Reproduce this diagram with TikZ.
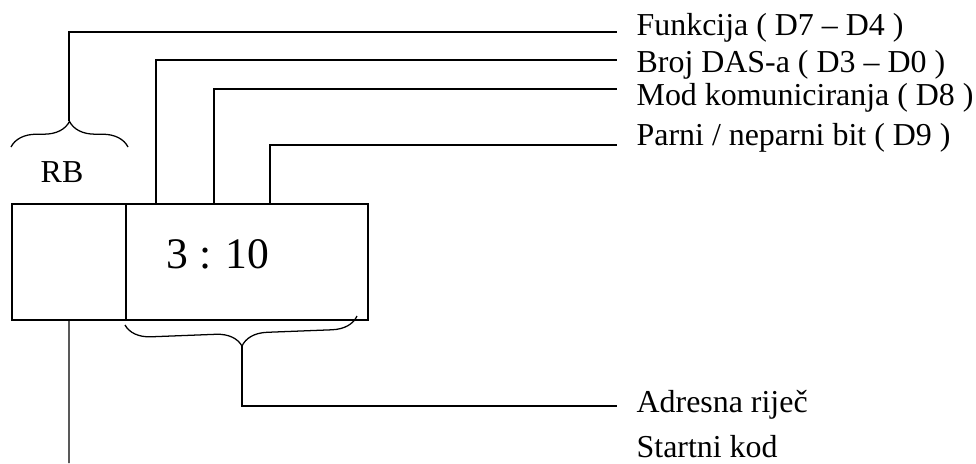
\documentclass[tikz,border=0pt]{standalone}
\usepackage{fontspec}
\setmainfont{Liberation Serif}
\usetikzlibrary{decorations.pathreplacing}

\begin{document}
\begin{tikzpicture}[
    x=0.025cm, y=-0.025cm,
    line width=0.9pt,
    every node/.style={inner sep=0pt, font=\fontsize{22.7}{27}\selectfont},
    lbl/.style={anchor=base west},
    cell/.style={draw, outer sep=0pt, minimum height=2.9cm, anchor=north west},
    curly/.style={decorate, decoration={brace, amplitude=0.64cm}}
]
\useasboundingbox (0,0) rectangle (976,463);

% the word
\node[cell, minimum width=2.85cm] (rb) at (12,204) {};
\node[cell, minimum width=6.05cm] (adr) at (rb.north east) {};
\node[anchor=base west, font=\fontsize{31}{37}\selectfont] (val) at (166,268) {3 : 10};
\node[anchor=base] (rbtxt) at (62,182) {RB};

% braces
\draw[curly] (11,147) -- (128,147);
\draw[curly] (357,316) -- (125,325);
\coordinate (rbtip) at (69,121);
\coordinate (adrtip) at (242,346);

% labels
\node[lbl] (funk) at (636,35) {Funkcija ( D7 -- D4 )};
\node[lbl] (broj) at (636,72) {Broj DAS-a ( D3 -- D0 )};
\node[lbl] (mod) at (636,105) {Mod komuniciranja ( D8 )};
\node[lbl] (parni) at (636,145) {Parni / neparni bit ( D9 )};
\node[lbl] (adrtxt) at (636,412) {Adresna riječ};
\node[lbl] (start) at (636,457) {Startni kod};

\coordinate (funkend) at (617,32);
\coordinate (brojend) at (617,60);
\coordinate (modend) at (617,89);
\coordinate (parniend) at (617,145);
\coordinate (adrend) at (617,406);
\coordinate (startend) at (69,463);

% connectors
\draw (rbtip) |- (funkend);
\draw ([xshift=0.75cm]adr.north west) |- (brojend);
\draw ([xshift=2.2cm]adr.north west) |- (modend);
\draw ([xshift=3.6cm]adr.north west) |- (parniend);
\draw (adrtip) |- (adrend);
\draw (rb.south) -- (startend);
\end{tikzpicture}
\end{document}
